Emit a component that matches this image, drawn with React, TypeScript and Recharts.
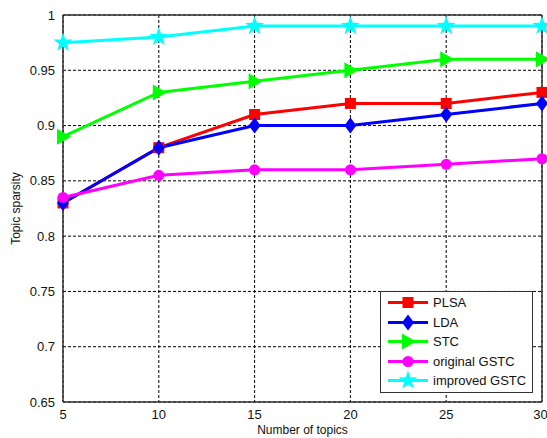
import { LineChart, Line, XAxis, YAxis, CartesianGrid, ReferenceLine } from 'recharts';

const topics = [5, 10, 15, 20, 25, 30];
const plsa = [0.83, 0.88, 0.91, 0.92, 0.92, 0.93];
const lda = [0.83, 0.88, 0.9, 0.9, 0.91, 0.92];
const stc = [0.89, 0.93, 0.94, 0.95, 0.96, 0.96];
const originalGstc = [0.835, 0.855, 0.86, 0.86, 0.865, 0.87];
const improvedGstc = [0.975, 0.98, 0.99, 0.99, 0.99, 0.99];
const yTicks = [0.65, 0.7, 0.75, 0.8, 0.85, 0.9, 0.95, 1];

const data = topics.map((t, i) => ({
  topics: t,
  plsa: plsa[i],
  lda: lda[i],
  stc: stc[i],
  original: originalGstc[i],
  improved: improvedGstc[i],
}));

type Shape = 'square' | 'diamond' | 'triangle' | 'circle' | 'star';

const SERIES: { key: string; name: string; color: string; shape: Shape }[] = [
  { key: 'plsa', name: 'PLSA', color: '#ff0000', shape: 'square' },
  { key: 'lda', name: 'LDA', color: '#0000ff', shape: 'diamond' },
  { key: 'stc', name: 'STC', color: '#00ff00', shape: 'triangle' },
  { key: 'original', name: 'original GSTC', color: '#ff00ff', shape: 'circle' },
  { key: 'improved', name: 'improved GSTC', color: '#00ffff', shape: 'star' },
];

const FONT = 'Liberation Sans, Arial, sans-serif';

const starPoints = (cx: number, cy: number, R: number, r: number) => {
  const pts: string[] = [];
  for (let i = 0; i < 10; i++) {
    const rad = i % 2 === 0 ? R : r;
    const a = -Math.PI / 2 + (i * Math.PI) / 5;
    pts.push(`${cx + rad * Math.cos(a)},${cy + rad * Math.sin(a)}`);
  }
  return pts.join(' ');
};

const Marker = ({ cx, cy, shape, color }: { cx: number; cy: number; shape: Shape; color: string }) => {
  switch (shape) {
    case 'square':
      return <rect x={cx - 5.5} y={cy - 5.5} width={11} height={11} fill={color} />;
    case 'diamond':
      return <polygon points={`${cx},${cy - 8} ${cx + 6},${cy} ${cx},${cy + 8} ${cx - 6},${cy}`} fill={color} />;
    case 'triangle':
      return <polygon points={`${cx - 6},${cy - 8} ${cx + 8},${cy} ${cx - 6},${cy + 8}`} fill={color} />;
    case 'circle':
      return <circle cx={cx} cy={cy} r={5.5} fill={color} />;
    default:
      return <polygon points={starPoints(cx, cy, 10, 4)} fill={color} />;
  }
};

const makeDot = (shape: Shape, color: string) => (props: any) => {
  const { cx, cy, index } = props;
  if (cx == null || cy == null) return <g key={index} />;
  return (
    <g key={`${shape}-${index}`}>
      <Marker cx={cx} cy={cy} shape={shape} color={color} />
    </g>
  );
};

// legend box drawn on top of the plot, like matlab's 'southeast' legend
const LegendBox = () => (
  <div
    style={{
      position: 'absolute',
      left: 380,
      top: 291,
      width: 151,
      height: 99,
      border: '1px solid #333',
      background: '#fff',
      paddingTop: 1,
      boxSizing: 'content-box',
      fontFamily: FONT,
      fontSize: 13,
      color: '#111',
    }}
  >
    {SERIES.map((s) => (
      <div key={s.key} style={{ display: 'flex', alignItems: 'center', height: 19.5 }}>
        <svg width={44} height={19} style={{ marginLeft: 7, marginRight: 1 }}>
          <line x1={0} y1={9.5} x2={40} y2={9.5} stroke={s.color} strokeWidth={3} />
          <Marker cx={20} cy={9.5} shape={s.shape} color={s.color} />
        </svg>
        <span>{s.name}</span>
      </div>
    ))}
  </div>
);

export default function App() {
  return (
    <div style={{ position: 'absolute', left: 0, top: 0, width: 547, height: 438, background: '#fff' }}>
      <LineChart
        width={547}
        height={438}
        data={data}
        margin={{ top: 15, right: 5, left: 23, bottom: 6 }}
        style={{ fontFamily: FONT }}
      >
        <CartesianGrid stroke="#000" strokeDasharray="3 2" strokeWidth={1} />
        <XAxis
          dataKey="topics"
          type="number"
          domain={[5, 30]}
          ticks={topics}
          tickLine={false}
          axisLine={{ stroke: '#333', strokeWidth: 1.5 }}
          tick={{ fill: '#111', fontSize: 13 }}
          height={30}
          label={{ value: 'Number of topics', position: 'insideBottom', offset: -2, fill: '#111', fontSize: 12 }}
        />
        <YAxis
          type="number"
          domain={[0.65, 1]}
          ticks={yTicks}
          tickLine={false}
          axisLine={{ stroke: '#333', strokeWidth: 1.5 }}
          tick={{ fill: '#111', fontSize: 13 }}
          tickFormatter={(v: number) => String(Number(v.toFixed(2)))}
          width={40}
          label={{ value: 'Topic sparsity', angle: -90, position: 'insideLeft', offset: -7, fill: '#111', fontSize: 12, style: { textAnchor: 'middle' } }}
        />
        <ReferenceLine y={1} stroke="#333" strokeWidth={1.5} />
        <ReferenceLine x={30} stroke="#333" strokeWidth={1.5} />
        {SERIES.map((s) => (
          <Line
            key={s.key}
            dataKey={s.key}
            name={s.name}
            stroke={s.color}
            strokeWidth={3}
            dot={makeDot(s.shape, s.color)}
            activeDot={false}
            isAnimationActive={false}
          />
        ))}
      </LineChart>
      <LegendBox />
    </div>
  );
}
